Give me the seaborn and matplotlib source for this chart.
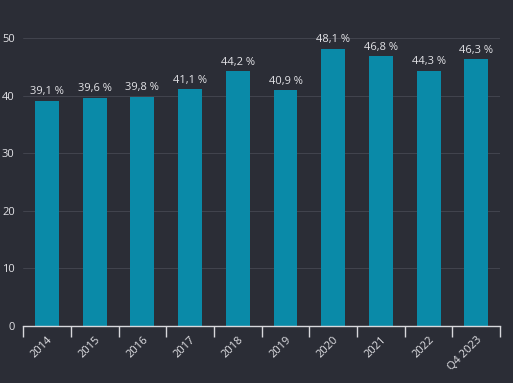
import pandas as pd
import seaborn as sns
import matplotlib
import matplotlib.pyplot as plt
matplotlib.use('Agg')

# data
years = ['2014', '2015', '2016', '2017', '2018', '2019', '2020', '2021', '2022', 'Q4 2023']
share = [39.1, 39.6, 39.8, 41.1, 44.2, 40.9, 48.1, 46.8, 44.3, 46.3]

bg = '#2b2d36'
bar_color = '#0a8aa8'
text_color = '#e2e2e6'

sns.set_theme(style="dark")
plt.rcParams['font.family'] = ['Open Sans', 'DejaVu Sans']

df = pd.DataFrame({'year': years, 'share': share})

fig = plt.figure(figsize=(5.13, 3.83), dpi=100, facecolor=bg)
ax = fig.add_axes([0.045, 0.149, 0.93, 0.752])
ax.set_facecolor(bg)

sns.barplot(data=df, x='year', y='share', color=bar_color, width=0.5,
            saturation=1, linewidth=0, edgecolor='none', ax=ax, zorder=3)

for i, v in enumerate(share):
    ax.text(i, v + 0.6, f"{v:.1f} %".replace('.', ','), ha='center', va='bottom',
            color=text_color, fontsize=8, clip_on=False)

ax.set_ylim(0, 50)
ax.set_xlim(-0.5, len(years) - 0.5)
ax.set_yticks([0, 10, 20, 30, 40, 50])
ax.grid(axis='y', color='#464852', linewidth=0.6, zorder=0)
ax.grid(axis='x', visible=False)

# ticks at the category edges, labels at the centres
ax.set_xticks([i - 0.5 for i in range(len(years) + 1)])
ax.set_xticklabels([])
ax.set_xticks(range(len(years)), minor=True)
ax.set_xticklabels(years, minor=True, rotation=45, ha='right', rotation_mode='anchor',
                   color=text_color, fontsize=8)
ax.tick_params(axis='x', which='major', length=8, width=1, color='#d8d8dc', direction='out', bottom=True)
ax.tick_params(axis='x', which='minor', length=0, pad=6)
ax.tick_params(axis='y', length=0, pad=6, labelcolor=text_color, labelsize=8)

for s in ['top', 'right', 'left']:
    ax.spines[s].set_visible(False)
ax.spines['bottom'].set_color('#d8d8dc')
ax.spines['bottom'].set_linewidth(1)
ax.spines['bottom'].set_zorder(4)

ax.set_xlabel('')
ax.set_ylabel('')

fig.savefig('out.png', dpi=100, facecolor=bg)
